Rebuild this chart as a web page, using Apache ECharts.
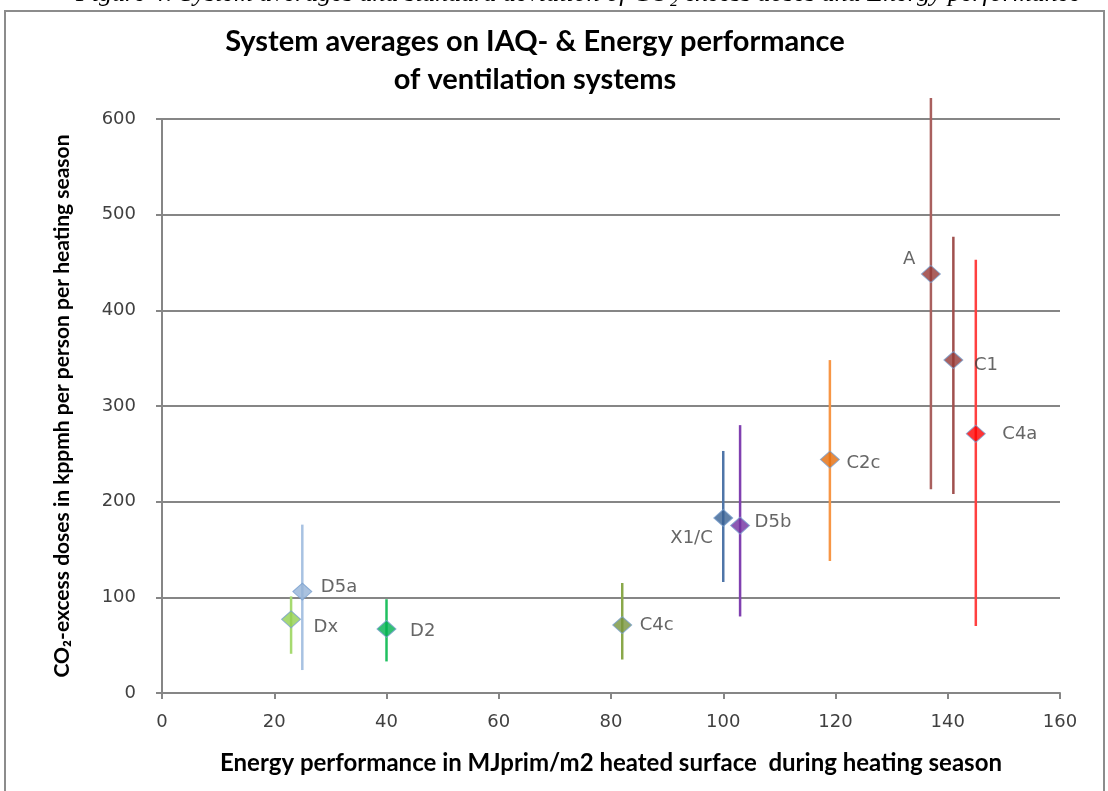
<!DOCTYPE html>
<html>
<head>
<meta charset="utf-8">
<script src="https://cdn.jsdelivr.net/npm/echarts@6/dist/echarts.min.js"></script>
<style>
html,body{margin:0;padding:0;background:#fff;}
#chart{width:1108px;height:791px;}
</style>
</head>
<body>
<div id="chart"></div>
<script>
// ---- data ----
const systems = ['A', 'C1', 'C4a', 'C2c', 'X1/C', 'D5b', 'C4c', 'D2', 'Dx', 'D5a'];
const energy  = [137, 141, 145, 119, 100, 103, 82, 40, 23, 25];
const co2Mean = [438, 348, 271, 244, 183, 175, 71, 67, 77, 106];
const co2Low  = [213, 208, 70, 138, 116, 80, 35, 33, 41, 24];
const co2High = [622, 477, 453, 348, 253, 280, 115, 98, 101, 176];
const xTicks = [0, 20, 40, 60, 80, 100, 120, 140, 160];
const yTicks = [0, 100, 200, 300, 400, 500, 600];

// ---- styles ----
const markerColors = ['#953735', '#953735', '#FF0000', '#E46C0A', '#376092', '#7030A0', '#77933C', '#00B050', '#92D050', '#95B3D7'];
const barColors    = ['#A9605E', '#A0504E', '#FF4040', '#F79646', '#4F75A8', '#8040B0', '#8AA84A', '#20C060', '#A6DA70', '#A8C2E2'];
// gap from marker centre to label edge, and vertical shift
const labelGap   = [15, 20, 26, 16, 10, 14, 17, 23, 22, 18];
const labelShift = [-15, 5, 1, 4, 20, -3, 0, 2, 8, -4];
const labelSide  = ['left', 'right', 'right', 'right', 'left', 'right', 'right', 'right', 'right', 'right'];

const chart = echarts.init(document.getElementById('chart'));

const points = systems.map((s, i) => ({
  name: s,
  value: [energy[i], co2Mean[i]],
  itemStyle: { color: markerColors[i], borderColor: '#7BA0D0', borderWidth: 1 },
  label: {
    show: true, formatter: s, position: labelSide[i], distance: 0,
    offset: [labelSide[i] === 'left' ? -(labelGap[i] - 9.5) : (labelGap[i] - 9.5), labelShift[i]]
  }
}));

const bars = systems.map((s, i) => [energy[i], co2Low[i], co2High[i], i]);

const option = {
  animation: false,
  backgroundColor: '#ffffff',
  graphic: [
    { type: 'rect', shape: { x: 5, y: 11, width: 1099, height: 800 },
      style: { fill: 'none', stroke: '#8c8c8c', lineWidth: 2 }, z: -10 },
    { type: 'text', left: 76, top: -19,
      style: { text: 'Figure 4: System averages and standard deviation of CO\u2082 excess doses and Energy performance',
               font: 'italic 26px "Liberation Serif"', fill: '#000' } },
    { type: 'text', x: 535, y: 42,
      style: { text: 'System averages on IAQ- & Energy performance', font: 'bold 29px Lato', fill: '#000',
               textAlign: 'center', textVerticalAlign: 'middle' } },
    { type: 'text', x: 535, y: 80,
      style: { text: 'of ventilation systems', font: 'bold 29px Lato', fill: '#000',
               textAlign: 'center', textVerticalAlign: 'middle' } }
  ],
  grid: { left: 162, right: 48, top: 119, bottom: 98 },
  xAxis: {
    type: 'value', min: 0, max: 160, interval: 20,
    name: 'Energy performance in MJprim/m2 heated surface  during heating season',
    nameLocation: 'middle', nameGap: 58,
    nameTextStyle: { fontFamily: 'Lato', fontWeight: 'bold', fontSize: 24, color: '#000' },
    axisLine: { show: true, lineStyle: { color: '#868686', width: 2 } },
    axisTick: { show: true, inside: false, length: 6, lineStyle: { color: '#868686', width: 2 } },
    axisLabel: { color: '#404040', fontFamily: 'DejaVu Sans', fontSize: 18, margin: 20,
                 formatter: v => xTicks.includes(v) ? String(v) : '' },
    splitLine: { show: false }
  },
  yAxis: {
    type: 'value', min: 0, max: 600, interval: 100,
    name: 'CO\u2082-excess doses in kppmh per person per heating season',
    nameLocation: 'middle', nameGap: 89, nameRotate: 90,
    nameTextStyle: { fontFamily: 'Lato', fontWeight: 'bold', fontSize: 21, color: '#000' },
    axisLine: { show: true, lineStyle: { color: '#868686', width: 2 } },
    axisTick: { show: true, inside: false, length: 6, lineStyle: { color: '#868686', width: 2 } },
    axisLabel: { color: '#404040', fontFamily: 'DejaVu Sans', fontSize: 18, margin: 26,
                 formatter: v => yTicks.includes(v) ? String(v) : '' },
    splitLine: { show: true, lineStyle: { color: '#868686', width: 2 } }
  },
  series: [
    {
      type: 'custom',
      clip: false,
      data: bars,
      renderItem: function (params, api) {
        const x = api.value(0);
        const lo = api.coord([x, api.value(1)]);
        const hi = api.coord([x, api.value(2)]);
        const idx = api.value(3);
        return {
          type: 'line',
          shape: { x1: lo[0], y1: lo[1], x2: hi[0], y2: hi[1] },
          style: { stroke: barColors[idx], lineWidth: 2.5 }
        };
      },
      z: 2
    },
    {
      type: 'scatter',
      symbol: 'diamond',
      symbolSize: [19, 17],
      data: points,
      label: { color: '#404040', fontFamily: 'DejaVu Sans', fontSize: 18 },
      z: 3
    }
  ]
};
chart.setOption(option);
</script>
</body>
</html>
